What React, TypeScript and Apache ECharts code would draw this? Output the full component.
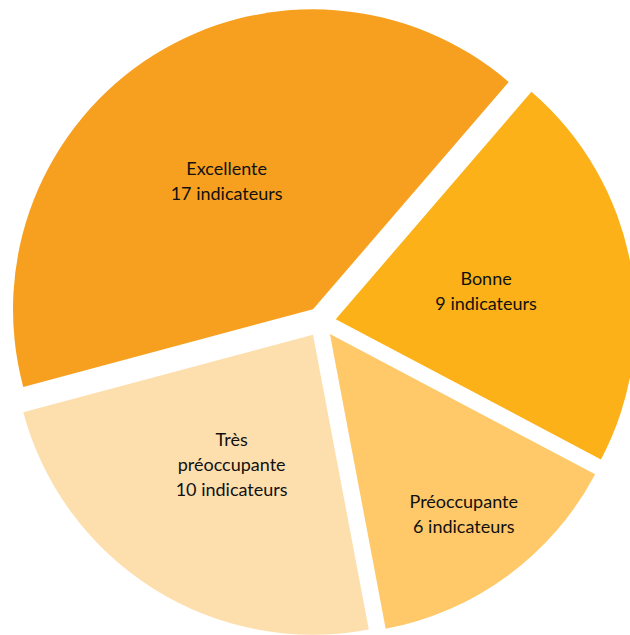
import React, { useEffect, useRef } from "react";
import * as echarts from "echarts";

const categories = ["Excellente", "Bonne", "Préoccupante", "Très\npréoccupante"];
const values = [17, 9, 6, 10];
const colors = ["#F7A01F", "#FBB117", "#FFC868", "#FDDFAE"];

export default function App() {
  const ref = useRef<HTMLDivElement>(null);
  useEffect(() => {
    const chart = echarts.init(ref.current!, null, { renderer: "svg" });
    chart.setOption({
      animation: false,
      series: [
        {
          type: "pie",
          center: [321, 322],
          radius: 300,
          startAngle: 195,
          clockwise: true,
          selectedMode: "multiple",
          selectedOffset: 15,
          silent: true,
          emphasis: { disabled: true },
          label: {
            show: true,
            position: "inside",
            fontFamily: "Lato, 'Open Sans', sans-serif",
            fontSize: 18,
            lineHeight: 25,
            color: "#111111",
            formatter: (p: any) => `${p.name}\n${p.value} indicateurs`,
          },
          labelLine: { show: false },
          labelLayout: (p: any) =>
            p.dataIndex === 2 ? { dx: 43, dy: 56 } : p.dataIndex === 0 ? { dx: -5, dy: 1 } : {},
          itemStyle: { borderWidth: 0 },
          data: categories.map((c, i) => ({
            name: c,
            value: values[i],
            selected: true,
            itemStyle: { color: colors[i] },
          })),
        },
      ],
    });
    return () => chart.dispose();
  }, []);
  return (
    <div
      ref={ref}
      style={{ position: "absolute", left: 0, top: 0, width: 630, height: 635, background: "#fff" }}
    />
  );
}
